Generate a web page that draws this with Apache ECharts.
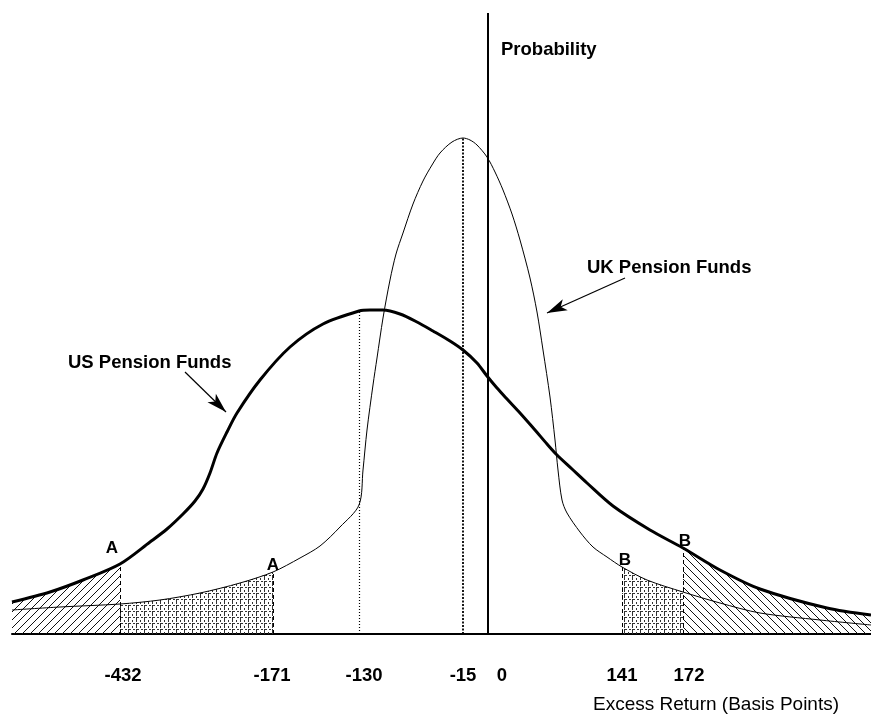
<!DOCTYPE html>
<html>
<head>
<meta charset="utf-8">
<script src="https://cdn.jsdelivr.net/npm/echarts@6/dist/echarts.min.js"></script>
<style>
  html, body { margin: 0; padding: 0; background: #fff; }
  #chart { width: 871px; height: 715px; }
</style>
</head>
<body>
<div id="chart"></div>
<script>
// Schematic horizontal position (as drawn) and height above the baseline.
const usCurve = [
  [12,32],[50,42],[83,54],[120,70],[150,92],[167,105],[183,120],[195,133],[203,145],[210,161],
  [217,181],[227,202],[237,221],[260,254],[290,287],[323,310],[359,323],[370,324],[383,324],
  [400,320],[417,312],[433,303],[450,293],[463,284],[477,271],[487,258],[497,246],[507,235],
  [520,221],[535,204],[547,190],[557,179],[572,165],[587,151],[613,128],[650,104],[683,86],
  [720,64],[760,45],[827,26],[871,19]
];
const ukCurve = [
  [12,24],[60,27],[120,30],[160,34],[200,41],[240,51],[273,62],[300,76],[320,88],
  [340,107],[359,129],[363,164],[367,204],[373,249],[377,276],[383,316],[390,354],
  [396,380],[403,401],[413,430],[423,453],[432,469],[440,481],[452,492],[463,496],
  [470,494],[477,489],[487,477],[495,462],[503,444],[512,420],[520,394],[530,356],
  [537,322],[543,284],[550,237],[555,194],[558,164],[562,134],[567,121],[580,102],
  [593,87],[607,77],[622,67],[647,54],[683,42],[720,31],[760,21],[820,14],[871,9]
];
const tickLabels = ['-432', '-171', '-130', '-15', '0', '141', '172'];
const tickLabelPos = [123, 272, 364, 463, 502, 622, 689];
const usTailEdges = [120, 683];   // A and B for US funds
const ukTailEdges = [273, 622];   // A and B for UK funds
const usMeanPos = 359;            // -130
const ukMeanPos = 463;            // -15
const zeroPos = 488;              // 0
const axisTop = 621;

const FONT = 'Liberation Sans, Arial, Helvetica, sans-serif';
const hAt = (curve, x) => curve.find(p => p[0] === x)[1];

function hatch(dir) {
  const c = document.createElement('canvas');
  const s = 8;
  c.width = s; c.height = s;
  const g = c.getContext('2d');
  g.strokeStyle = '#111';
  g.lineWidth = 1;
  g.beginPath();
  if (dir === '/') {
    g.moveTo(-1, s + 1); g.lineTo(s + 1, -1);
    g.moveTo(-1, 1); g.lineTo(1, -1);
    g.moveTo(s - 1, s + 1); g.lineTo(s + 1, s - 1);
  } else {
    g.moveTo(-1, -1); g.lineTo(s + 1, s + 1);
    g.moveTo(s - 1, -1); g.lineTo(s + 1, 1);
    g.moveTo(-1, s - 1); g.lineTo(1, s + 1);
  }
  g.stroke();
  return { image: c, repeat: 'repeat' };
}
function gridPattern() {
  const c = document.createElement('canvas');
  c.width = 8; c.height = 6;
  const g = c.getContext('2d');
  g.fillStyle = '#333';
  g.fillRect(0, 0, 1, 4);   // vertical dash
  g.fillRect(0, 5, 3, 1);   // horizontal dash
  g.fillRect(5, 5, 2, 1);
  g.fillRect(4, 2, 1, 2);
  return { image: c, repeat: 'repeat' };
}

function areaSeries(curve, x0, x1, fill) {
  return {
    type: 'line', silent: true, smooth: 0.3, symbol: 'none',
    data: curve.filter(p => p[0] >= x0 && p[0] <= x1),
    lineStyle: { width: 0, opacity: 0 },
    areaStyle: { color: fill, opacity: 1 },
    z: 1
  };
}

const vLine = (x, h, type, width) => [
  { coord: [x, 0], lineStyle: { type: type, width: width, color: '#000' } },
  { coord: [x, h] }
];

const chart = echarts.init(document.getElementById('chart'));
chart.setOption({
  animation: false,
  backgroundColor: '#fff',
  grid: { left: 12, right: 0, top: 0, bottom: 81 },
  xAxis: {
    type: 'value', min: 12, max: 871,
    axisLine: { show: true, onZero: false, lineStyle: { color: '#000', width: 2 } },
    axisTick: { show: false },
    splitLine: { show: false },
    axisLabel: {
      customValues: tickLabelPos,
      formatter: v => tickLabels[tickLabelPos.indexOf(v)] || '',
      margin: 32, color: '#000', fontFamily: FONT, fontWeight: 'bold', fontSize: 18.5
    }
  },
  yAxis: { type: 'value', min: 0, max: 634, show: false },
  series: [
    areaSeries(usCurve, 12, usTailEdges[0], hatch('/')),
    areaSeries(usCurve, usTailEdges[1], 871, hatch('\\')),
    areaSeries(ukCurve, usTailEdges[0], ukTailEdges[0], gridPattern()),
    areaSeries(ukCurve, ukTailEdges[1], usTailEdges[1], gridPattern()),
    {
      name: 'UK Pension Funds', type: 'line', smooth: 0.3, symbol: 'none', silent: true,
      data: ukCurve, lineStyle: { color: '#000', width: 1 }, z: 3
    },
    {
      name: 'US Pension Funds', type: 'line', smooth: 0.3, symbol: 'none', silent: true,
      data: usCurve, lineStyle: { color: '#000', width: 3 }, z: 4
    },
    {
      type: 'line', data: [], silent: true, z: 2,
      markLine: {
        silent: true, symbol: 'none', label: { show: false },
        data: [
          vLine(usTailEdges[0], hAt(usCurve, usTailEdges[0]), [4, 3], 1),
          vLine(usTailEdges[1], hAt(usCurve, usTailEdges[1]), [4, 3], 1),
          vLine(ukTailEdges[0], hAt(ukCurve, ukTailEdges[0]), [4, 3], 1),
          vLine(ukTailEdges[1], hAt(ukCurve, ukTailEdges[1]), [4, 3], 1),
          vLine(usMeanPos, hAt(usCurve, usMeanPos), [1, 2], 1.2),
          vLine(ukMeanPos, hAt(ukCurve, ukMeanPos), [2, 1.5], 1.8),
          vLine(zeroPos, axisTop, 'solid', 2)
        ]
      }
    },
    {
      type: 'line', data: [], silent: true, z: 5,
      markLine: {
        silent: true, symbol: ['none', 'arrow'], symbolSize: [9, 20],
        label: { show: false },
        lineStyle: { color: '#000', width: 1.2, type: 'solid' },
        data: [
          [{ coord: [625, 356] }, { coord: [547, 321] }],
          [{ coord: [185, 262] }, { coord: [226, 222] }]
        ]
      }
    }
  ],
  graphic: [
    { type: 'text', style: { text: 'Probability', x: 501, y: 50, textVerticalAlign: 'middle', font: 'bold 18.5px ' + FONT, fill: '#000' } },
    { type: 'text', style: { text: 'UK Pension Funds', x: 587, y: 268, textVerticalAlign: 'middle', font: 'bold 18.5px ' + FONT, fill: '#000' } },
    { type: 'text', style: { text: 'US Pension Funds', x: 68, y: 363, textVerticalAlign: 'middle', font: 'bold 18.5px ' + FONT, fill: '#000' } },
    { type: 'text', style: { text: 'A', x: 112, y: 548, textAlign: 'center', textVerticalAlign: 'middle', font: 'bold 17px ' + FONT, fill: '#000' } },
    { type: 'text', style: { text: 'A', x: 273, y: 565, textAlign: 'center', textVerticalAlign: 'middle', font: 'bold 17px ' + FONT, fill: '#000' } },
    { type: 'text', style: { text: 'B', x: 625, y: 560, textAlign: 'center', textVerticalAlign: 'middle', font: 'bold 17px ' + FONT, fill: '#000' } },
    { type: 'text', style: { text: 'B', x: 685, y: 541, textAlign: 'center', textVerticalAlign: 'middle', font: 'bold 17px ' + FONT, fill: '#000' } },
    { type: 'text', style: { text: 'Excess Return (Basis Points)', x: 593, y: 705, textVerticalAlign: 'middle', font: '19px ' + FONT, fill: '#000' } }
  ]
});
</script>
</body>
</html>
